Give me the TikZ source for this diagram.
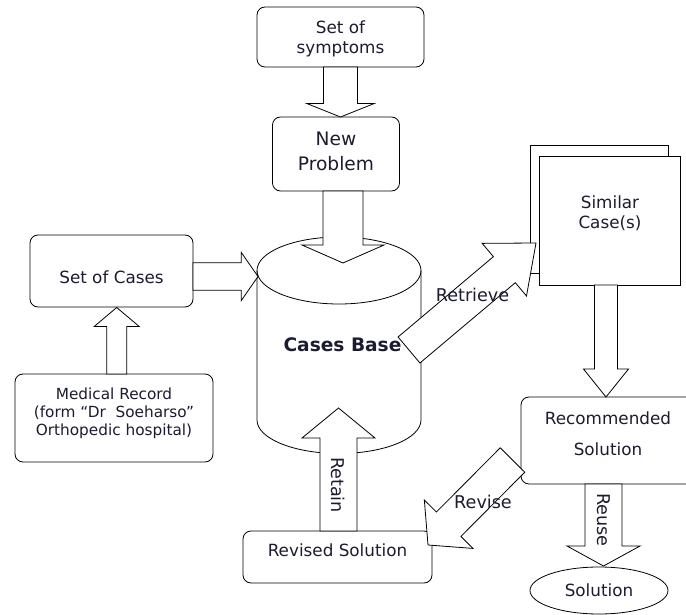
\documentclass[tikz,border=0pt]{standalone}
\usepackage{fontspec}
\setmainfont{DejaVu Sans}
\usetikzlibrary{calc,shapes.geometric}
\definecolor{txt}{RGB}{28,28,48}
\newcommand{\blockarr}[5]{%
  \coordinate (baq) at ($(#2)!#5!(#1)$);
  \filldraw[barrow] ($(#1)!#3!90:(#2)$) -- ($(baq)!#3!90:(#2)$) -- ($(baq)!#4!90:(#2)$) -- (#2)
    -- ($(baq)!#4!-90:(#2)$) -- ($(baq)!#3!-90:(#2)$) -- ($(#1)!#3!-90:(#2)$) -- cycle;}
\tikzset{
  ln/.style={draw=black, line width=0.8pt},
  box/.style={ln, rounded corners=8pt, inner sep=0pt, fill=white},
  sbox/.style={ln, inner sep=0pt},
  barrow/.style={draw=black, fill=white, line width=0.8pt, line join=miter},
  tx/.style={text=txt, inner sep=0pt, align=center, font=\fontsize{16.8}{20}\selectfont},
  lbl/.style={text=txt, inner sep=0pt, font=\fontsize{17.6}{20}\selectfont},
}
\begin{document}
\begin{tikzpicture}[x=1pt,y=-1pt]
\useasboundingbox (0,0) rectangle (686,615);
\clip (0,0) rectangle (686,615);
% cylinder (Cases Base)
\draw[ln] (257,270.5) -- (257,420) arc[start angle=180,end angle=360,x radius=82pt,y radius=33.5pt] -- (421,270.5);
\draw[ln] (339,270.5) ellipse[x radius=82pt, y radius=33.5pt];
% boxes
\node[box, minimum width=167pt, minimum height=60pt] (sym) at (340.5,37) {};
\node[box, minimum width=127pt, minimum height=74pt] (np) at (336,154) {};
\node[box, minimum width=163pt, minimum height=72pt] (cases) at (111.5,271) {};
\node[box, minimum width=198pt, minimum height=88pt] (med) at (114,418) {};
\node[sbox, minimum width=138pt, minimum height=128pt] (simb) at (599,209) {};
\node[sbox, fill=white, minimum width=141pt, minimum height=129pt] (sim) at (609.5,220.5) {};
\node[box, minimum width=174pt, minimum height=87pt] (rec) at (608,440.5) {};
\node[box, minimum width=189pt, minimum height=52pt] (rev) at (337.5,557) {};
\node[ln, ellipse, inner sep=0pt, minimum width=138pt, minimum height=47pt] (sol) at (599,590.5) {};
% arrow end points
\coordinate (a1t) at (340.5,67);  \coordinate (a1p) at (340.5,117);
\coordinate (a2t) at (343,191);   \coordinate (a2p) at (343,263);
\coordinate (a3t) at (193,276.5); \coordinate (a3p) at (258,276.5);
\coordinate (a4t) at (116.7,374); \coordinate (a4p) at (116.7,307.5);
\coordinate (a5t) at (409,350);   \coordinate (a5p) at (536,243);
\coordinate (a6t) at (606,285);   \coordinate (a6p) at (606,397);
\coordinate (a7t) at (603.5,484); \coordinate (a7p) at (603.5,566);
\coordinate (a8t) at (512.5,460); \coordinate (a8p) at (428,545);
\coordinate (a9t) at (338.5,531); \coordinate (a9p) at (338.5,408);
% block arrows
\blockarr{a1t}{a1p}{17pt}{33.7pt}{13.5pt}
\blockarr{a2t}{a2p}{20pt}{41pt}{18pt}
\blockarr{a3t}{a3p}{13.7pt}{24pt}{16.7pt}
\blockarr{a4t}{a4p}{10pt}{22.5pt}{19pt}
\blockarr{a5t}{a5p}{17pt}{34.4pt}{41.4pt}
\blockarr{a6t}{a6p}{11.5pt}{22.5pt}{28pt}
\blockarr{a7t}{a7p}{18.5pt}{36.5pt}{20pt}
\blockarr{a8t}{a8p}{17.3pt}{34.3pt}{29.3pt}
\blockarr{a9t}{a9p}{18.5pt}{36.5pt}{30pt}
% texts
\node[tx] (symT) at (340.5,39) {Set of\\symptoms};
\node[tx, font=\fontsize{18.6}{25}\selectfont] (npT) at (336,151) {New\\Problem};
\node[tx] (casesT) at (111.5,277.5) {Set of Cases};
\node[tx, font=\fontsize{15.3}{18}\selectfont] (medT) at (114,413) {Medical Record\\(form “Dr\ \ Soeharso"\\Orthopedic hospital)};
\node[tx] (simT) at (610,213) {Similar\\Case(s)};
\node[tx, font=\fontsize{16.8}{31}\selectfont] (recT) at (608,434) {Recommended\\Solution};
\node[tx] (revT) at (337.5,550) {Revised Solution};
\node[tx] (solT) at (599,590) {Solution};
\node[tx, font=\fontsize{18.6}{24}\selectfont\bfseries] (cb) at (342.5,345) {Cases Base};
\node[lbl] (retrieve) at (472.5,295) {Retrieve};
\node[lbl] (revise) at (483,502) {Revise};
\node[lbl, rotate=-90] (retain) at (338.5,485) {Retain};
\node[lbl, rotate=-90] (reuse) at (603.5,520) {Reuse};
\end{tikzpicture}
\end{document}
